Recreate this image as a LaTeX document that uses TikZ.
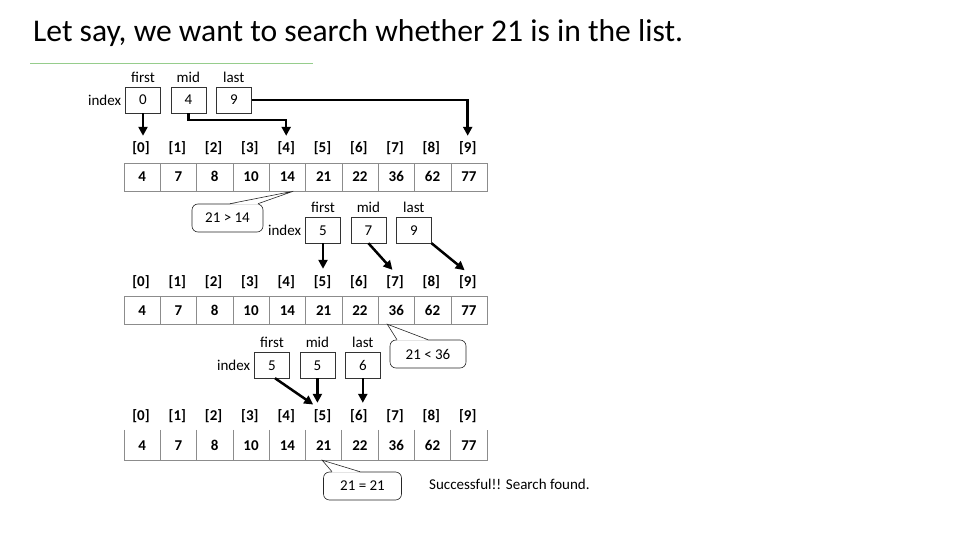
\documentclass[tikz,border=0pt]{standalone}
\usepackage{fontspec}
\setmainfont{Carlito}[Numbers=Lining]
\usetikzlibrary{arrows.meta,positioning}
\definecolor{rulegreen}{RGB}{150,205,140}
\tikzset{
  valbox/.style={draw=black!80,minimum width=35pt,minimum height=26pt,inner sep=0pt,text height=10pt,text depth=0pt,font=\fontsize{15}{17}\selectfont},
  cell/.style={draw=black!45,minimum width=36.3pt,minimum height=28pt,inner sep=0pt,text height=10pt,text depth=0pt,font=\bfseries\fontsize{15}{17}\selectfont},
  opencell/.style={cell,draw=none,minimum height=30pt},
  idx/.style={font=\bfseries\fontsize{15}{17}\selectfont,inner sep=2pt,text height=11pt,text depth=3pt},
  txt/.style={font=\fontsize{15}{17}\selectfont,inner sep=1pt,text height=11pt,text depth=0pt},
  above label/.style={label={[txt,label distance=3pt]above:#1}},
  left label/.style={label={[txt,label distance=3pt]left:#1}},
  remark/.style={draw=black!85,fill=white,rounded corners=6pt,minimum height=28pt,line width=0.6pt,font=\fontsize{15}{17}\selectfont},
  tail/.style={draw=black!85,line width=0.6pt,line join=miter},
  ptr/.style={draw,-{Triangle[length=9pt,width=9pt]},line width=2.5pt,shorten >=4pt}
}

\begin{document}
\begin{tikzpicture}[x=1pt,y=-1pt]
\useasboundingbox (0,0) rectangle (960,540);

% =========================================================
% Title
% =========================================================

\node[anchor=base west,inner sep=0pt,font=\fontsize{31.6}{38}\selectfont] (title) at (33,42)
  {Let say, we want to search whether 21 is in the list.};
\draw[rulegreen,line width=0.8pt] (30,63) -- (313,63);

% =========================================================
% Step 1
% =========================================================

\node[valbox,above label=first,left label=index] (f1) at (143,100) {0};
\node[valbox,right=10pt of f1,above label=mid] (m1) {4};
\node[valbox,right=10pt of m1,above label=last] (l1) {9};

\foreach \v [count=\i from 0] in {4,7,8,10,14,21,22,36,62,77} {
  \node[idx] (ix1-\i) at (141+36.3*\i,149) {[\i]};
  \node[cell] (a1-\i) at (142.15+36.3*\i,177) {\v};
}

\draw[ptr] (f1.south) -- (f1.south |- ix1-0.north);
\draw[ptr] (m1.south) -- ++(0,7) -| (ix1-4.north);
\draw[ptr] (l1.east) -| (ix1-9.north);

% 21 > 14
\node[remark,minimum width=71pt] (c1) at (227.5,218) {21 > 14};
\fill[white] ([xshift=2.5pt,yshift=-0.8pt]c1.north) -- ([xshift=6pt]a1-4.south) -- ([xshift=30.5pt,yshift=-0.8pt]c1.north) -- cycle;
\draw[tail] ([xshift=2.5pt]c1.north) -- ([xshift=6pt]a1-4.south) -- ([xshift=30.5pt]c1.north);

% =========================================================
% Step 2
% =========================================================

\node[valbox,above label=first,left label=index] (f2) at (323,230) {5};
\node[valbox,right=10pt of f2,above label=mid] (m2) {7};
\node[valbox,right=10pt of m2,above label=last] (l2) {9};

\foreach \v [count=\i from 0] in {4,7,8,10,14,21,22,36,62,77} {
  \node[idx] (ix2-\i) at (141+36.3*\i,282) {[\i]};
  \node[cell] (a2-\i) at (142.15+36.3*\i,310) {\v};
}

\draw[ptr] (f2.south) -- (f2.south |- ix2-5.north);
\draw[ptr] (m2.south) -- (ix2-7.north);
\draw[ptr] (l2.south east) -- (ix2-9.north);

% 21 < 36
\node[remark,minimum width=76pt] (c2) at (428,354) {21 < 36};
\fill[white] ([xshift=-31pt,yshift=-0.8pt]c2.north) -- ([xshift=-9pt]a2-7.south) -- ([xshift=0pt,yshift=-0.8pt]c2.north) -- cycle;
\draw[tail] ([xshift=-31pt]c2.north) -- ([xshift=-9pt]a2-7.south) -- (c2.north);

% =========================================================
% Step 3
% =========================================================

\node[valbox,above label=first,left label=index] (f3) at (272,365) {5};
\node[valbox,right=10pt of f3,above label=mid] (m3) {5};
\node[valbox,right=10pt of m3,above label=last] (l3) {6};

\foreach \v [count=\i from 0] in {4,7,8,10,14,21,22,36,62,77} {
  \node[idx] (ix3-\i) at (141+36.3*\i,416) {[\i]};
  \node[opencell] (a3-\i) at (142.15+36.3*\i,445) {\v};
}
\draw[black!45] (a3-0.north west) -- (a3-0.south west) -- (a3-9.south east) -- (a3-9.north east);
\foreach \i in {1,...,9}
  \draw[black!45] (a3-\i.north west) -- (a3-\i.south west);

\draw[ptr] ([xshift=3pt]f3.south) -- ([xshift=-6pt]ix3-5.north);
\draw[ptr] (m3.south) -- (m3.south |- ix3-5.north);
\draw[ptr] (l3.south) -- (l3.south |- ix3-6.north);

% 21 = 21
\node[remark,minimum width=78pt] (c3) at (362.5,486) {21 = 21};
\fill[white] ([xshift=-30.5pt,yshift=-0.8pt]c3.north) -- ([xshift=-1.5pt]a3-5.south) -- ([xshift=-2.5pt,yshift=-0.8pt]c3.north) -- cycle;
\draw[tail] ([xshift=-30.5pt]c3.north) -- ([xshift=-1.5pt]a3-5.south) -- ([xshift=-2.5pt]c3.north);
\node[txt,anchor=west] (found) at (428,484) {Successful!! Search found.};

\end{tikzpicture}
\end{document}
